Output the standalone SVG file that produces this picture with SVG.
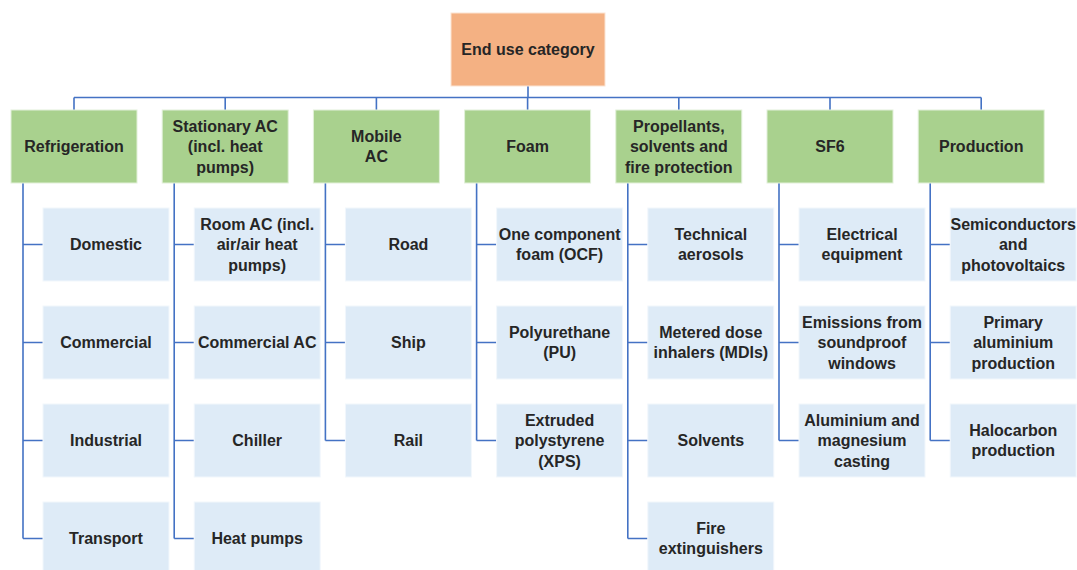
<svg xmlns="http://www.w3.org/2000/svg" width="1077" height="570" viewBox="0 0 1077 570">
<style>
.top{fill:#F4B183;stroke:#FBE3D2;stroke-width:1}
.cat{fill:#A9D18E;stroke:#E2F0D9;stroke-width:1}
.leaf{fill:#DEEBF7;stroke:#F2F7FC;stroke-width:1}
text{font-family:"Liberation Sans",Arial,sans-serif;font-weight:bold;font-size:16px;fill:#262626;text-anchor:middle}
.con path{fill:none;stroke:#4472C4;stroke-width:1.6}
</style>
<rect width="1077" height="570" fill="#FFFFFF"/>
<g class="con" id="connectors">
<path d="M528 86V97.5M74 97.5H981.2M74 97.5V110M225.2 97.5V110M376.4 97.5V110M527.6 97.5V110M678.8 97.5V110M830 97.5V110M981.2 97.5V110"/>
<path d="M23 183V538.5M23 244.5H43M23 342.5H43M23 440.5H43M23 538.5H43"/>
<path d="M174.2 183V538.5M174.2 244.5H194.2M174.2 342.5H194.2M174.2 440.5H194.2M174.2 538.5H194.2"/>
<path d="M325.4 183V440.5M325.4 244.5H345.4M325.4 342.5H345.4M325.4 440.5H345.4"/>
<path d="M476.6 183V440.5M476.6 244.5H496.6M476.6 342.5H496.6M476.6 440.5H496.6"/>
<path d="M627.8 183V538.5M627.8 244.5H647.8M627.8 342.5H647.8M627.8 440.5H647.8M627.8 538.5H647.8"/>
<path d="M779 183V440.5M779 244.5H799M779 342.5H799M779 440.5H799"/>
<path d="M930.2 183V440.5M930.2 244.5H950.2M930.2 342.5H950.2M930.2 440.5H950.2"/>
</g>
<g id="n-top"><rect class="top" x="451" y="13" width="154" height="73"/><text x="528" y="55">End use category</text></g>

<g id="n-refrigeration"><rect class="cat" x="11" y="110" width="126" height="73"/><text x="74" y="152">Refrigeration</text></g>
<g id="n-stationary"><rect class="cat" x="162.2" y="110" width="126" height="73"/><text x="225.2" y="131.5">Stationary AC<tspan x="225.2" dy="20.5">(incl. heat</tspan><tspan x="225.2" dy="20.5">pumps)</tspan></text></g>
<g id="n-mobile"><rect class="cat" x="313.4" y="110" width="126" height="73"/><text x="376.4" y="141.75">Mobile<tspan x="376.4" dy="20.5">AC</tspan></text></g>
<g id="n-foam"><rect class="cat" x="464.6" y="110" width="126" height="73"/><text x="527.6" y="152">Foam</text></g>
<g id="n-propellants"><rect class="cat" x="615.8" y="110" width="126" height="73"/><text x="678.8" y="131.5">Propellants,<tspan x="678.8" dy="20.5">solvents and</tspan><tspan x="678.8" dy="20.5">fire protection</tspan></text></g>
<g id="n-sf6"><rect class="cat" x="767" y="110" width="126" height="73"/><text x="830" y="152">SF6</text></g>
<g id="n-production"><rect class="cat" x="918.2" y="110" width="126" height="73"/><text x="981.2" y="152">Production</text></g>

<g id="n-domestic"><rect class="leaf" x="43" y="208" width="126" height="73"/><text x="106" y="250">Domestic</text></g>
<g id="n-commercial"><rect class="leaf" x="43" y="306" width="126" height="73"/><text x="106" y="348">Commercial</text></g>
<g id="n-industrial"><rect class="leaf" x="43" y="404" width="126" height="73"/><text x="106" y="446">Industrial</text></g>
<g id="n-transport"><rect class="leaf" x="43" y="502" width="126" height="73"/><text x="106" y="544">Transport</text></g>

<g id="n-roomac"><rect class="leaf" x="194.2" y="208" width="126" height="73"/><text x="257.2" y="229.5">Room AC (incl.<tspan x="257.2" dy="20.5">air/air heat</tspan><tspan x="257.2" dy="20.5">pumps)</tspan></text></g>
<g id="n-commercialac"><rect class="leaf" x="194.2" y="306" width="126" height="73"/><text x="257.2" y="348">Commercial AC</text></g>
<g id="n-chiller"><rect class="leaf" x="194.2" y="404" width="126" height="73"/><text x="257.2" y="446">Chiller</text></g>
<g id="n-heatpumps"><rect class="leaf" x="194.2" y="502" width="126" height="73"/><text x="257.2" y="544">Heat pumps</text></g>

<g id="n-road"><rect class="leaf" x="345.4" y="208" width="126" height="73"/><text x="408.4" y="250">Road</text></g>
<g id="n-ship"><rect class="leaf" x="345.4" y="306" width="126" height="73"/><text x="408.4" y="348">Ship</text></g>
<g id="n-rail"><rect class="leaf" x="345.4" y="404" width="126" height="73"/><text x="408.4" y="446">Rail</text></g>

<g id="n-ocf"><rect class="leaf" x="496.6" y="208" width="126" height="73"/><text x="559.6" y="239.75">One component<tspan x="559.6" dy="20.5">foam (OCF)</tspan></text></g>
<g id="n-pu"><rect class="leaf" x="496.6" y="306" width="126" height="73"/><text x="559.6" y="337.75">Polyurethane<tspan x="559.6" dy="20.5">(PU)</tspan></text></g>
<g id="n-xps"><rect class="leaf" x="496.6" y="404" width="126" height="73"/><text x="559.6" y="425.5">Extruded<tspan x="559.6" dy="20.5">polystyrene</tspan><tspan x="559.6" dy="20.5">(XPS)</tspan></text></g>

<g id="n-aerosols"><rect class="leaf" x="647.8" y="208" width="126" height="73"/><text x="710.8" y="239.75">Technical<tspan x="710.8" dy="20.5">aerosols</tspan></text></g>
<g id="n-mdi"><rect class="leaf" x="647.8" y="306" width="126" height="73"/><text x="710.8" y="337.75">Metered dose<tspan x="710.8" dy="20.5">inhalers (MDIs)</tspan></text></g>
<g id="n-solvents"><rect class="leaf" x="647.8" y="404" width="126" height="73"/><text x="710.8" y="446">Solvents</text></g>
<g id="n-fire"><rect class="leaf" x="647.8" y="502" width="126" height="73"/><text x="710.8" y="533.75">Fire<tspan x="710.8" dy="20.5">extinguishers</tspan></text></g>

<g id="n-electrical"><rect class="leaf" x="799" y="208" width="126" height="73"/><text x="862" y="239.75">Electrical<tspan x="862" dy="20.5">equipment</tspan></text></g>
<g id="n-windows"><rect class="leaf" x="799" y="306" width="126" height="73"/><text x="862" y="327.5">Emissions from<tspan x="862" dy="20.5">soundproof</tspan><tspan x="862" dy="20.5">windows</tspan></text></g>
<g id="n-casting"><rect class="leaf" x="799" y="404" width="126" height="73"/><text x="862" y="425.5">Aluminium and<tspan x="862" dy="20.5">magnesium</tspan><tspan x="862" dy="20.5">casting</tspan></text></g>

<g id="n-semiconductors"><rect class="leaf" x="950.2" y="208" width="126" height="73"/><text x="1013.2" y="229.5">Semiconductors<tspan x="1013.2" dy="20.5">and</tspan><tspan x="1013.2" dy="20.5">photovoltaics</tspan></text></g>
<g id="n-aluminium"><rect class="leaf" x="950.2" y="306" width="126" height="73"/><text x="1013.2" y="327.5">Primary<tspan x="1013.2" dy="20.5">aluminium</tspan><tspan x="1013.2" dy="20.5">production</tspan></text></g>
<g id="n-halocarbon"><rect class="leaf" x="950.2" y="404" width="126" height="73"/><text x="1013.2" y="435.75">Halocarbon<tspan x="1013.2" dy="20.5">production</tspan></text></g>
</svg>
